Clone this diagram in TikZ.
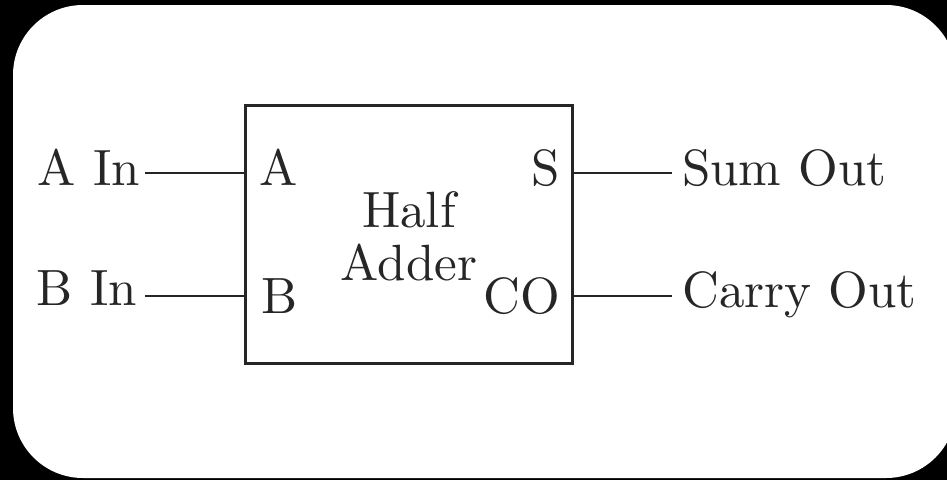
\documentclass[tikz,border=0pt]{standalone}
\usepackage{fontspec}
\setmainfont{lmroman10-regular}[Extension=.otf]
\begin{document}
\begin{tikzpicture}[x=1pt,y=-1pt,
  lbl/.style={inner sep=0pt, text=ink, font=\fontsize{51}{53}\selectfont},
  wire/.style={draw=ink, line width=2.6pt},
  blockbox/.style={draw=ink, line width=3pt, minimum width=327pt, minimum height=258pt, inner sep=0pt}]
\definecolor{ink}{HTML}{262626}
\useasboundingbox (0,0) rectangle (947,480);
\fill[black] (0,0) rectangle (947,480);
\fill[white, rounded corners=70pt] (13,5) rectangle (956,478);
% block
\node[blockbox] (box) at (408.5,234) {};
% inner labels
\node[lbl, anchor=base west] (pa) at (259,185) {A};
\node[lbl, anchor=base west] (pb) at (261,313) {B};
\node[lbl, anchor=base east] (ps) at (560,185) {S};
\node[lbl, anchor=base east] (pco) at (560,313) {CO};
\node[lbl, anchor=base] (half) at (409,227) {Half};
\node[lbl, anchor=base] (adder) at (409,280) {Adder};
% outer labels
\node[lbl, anchor=base east] (ain) at (140,185) {A In};
\node[lbl, anchor=base east] (bin) at (137,305) {B In};
\node[lbl, anchor=base west] (sout) at (682,185) {Sum Out};
\node[lbl, anchor=base west] (cout) at (682,307) {Carry Out};
% wire ends
\coordinate (aend) at (145,173);
\coordinate (bend) at (145,296);
\coordinate (send) at (672,173);
\coordinate (cend) at (672,296);
% wires
\draw[wire] (aend) -- (aend -| box.west);
\draw[wire] (bend) -- (bend -| box.west);
\draw[wire] (send -| box.east) -- (send);
\draw[wire] (cend -| box.east) -- (cend);
\end{tikzpicture}
\end{document}
